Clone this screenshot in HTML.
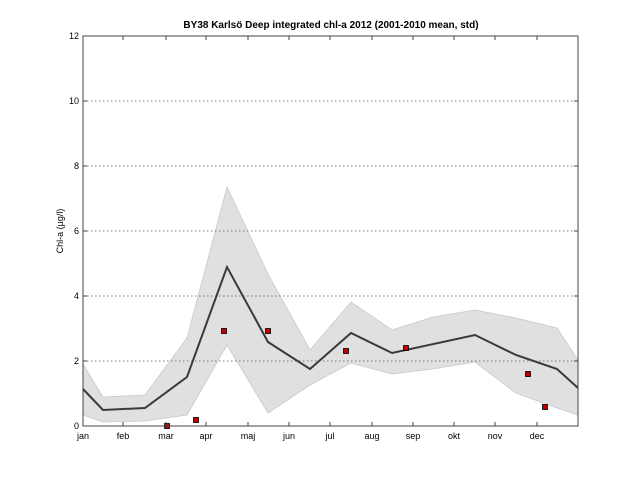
<!DOCTYPE html>
<html><head><style>body{margin:0;background:#fff}svg{display:block}</style></head><body>
<svg width="639" height="479" xmlns="http://www.w3.org/2000/svg" font-family="Liberation Sans, sans-serif" font-size="9">
<rect width="639" height="479" fill="#fff"/>
<polygon fill="#e0e0e0" stroke="#c8c8c8" stroke-width="0.8" points="83,364 103,397 145,395 187,338 227,187 268,274 310,350 351,302 392,330 433,317 475,310 516,318 557,328 578,360 578,415 557,408 516,393 475,362 433,369 392,374 351,363 310,385 268,413 227,345 187,415 145,421 103,422 83,415"/>
<g stroke="#555" stroke-width="0.8" stroke-dasharray="1.5,2.5">
<line x1="83" x2="578" y1="361" y2="361"/><line x1="83" x2="578" y1="296" y2="296"/><line x1="83" x2="578" y1="231" y2="231"/><line x1="83" x2="578" y1="166" y2="166"/><line x1="83" x2="578" y1="101" y2="101"/>
</g>
<polyline fill="none" stroke="#3a3a3a" stroke-width="2" points="83,389 103,410 145,408 187,377 227,267 268,342 310,369 351,333 392,353 475,335 516,355 557,369 578,388"/>
<g fill="#c00000" stroke="#000" stroke-width="0.8">
<rect x="164.5" y="423.5" width="5" height="5"/><rect x="193.5" y="417.5" width="5" height="5"/><rect x="221.5" y="328.5" width="5" height="5"/><rect x="265.5" y="328.5" width="5" height="5"/><rect x="343.5" y="348.5" width="5" height="5"/><rect x="403.5" y="345.5" width="5" height="5"/><rect x="525.5" y="371.5" width="5" height="5"/><rect x="542.5" y="404.5" width="5" height="5"/>
</g>
<rect x="83" y="36" width="495" height="390" fill="none" stroke="#444" stroke-width="1"/>
<g stroke="#444" stroke-width="1">
<path d="M123,426v-4M166,426v-4M206,426v-4M248,426v-4M289,426v-4M330,426v-4M372,426v-4M413,426v-4M454,426v-4M495,426v-4M537,426v-4"/>
<path d="M123,36v4M166,36v4M206,36v4M248,36v4M289,36v4M330,36v4M372,36v4M413,36v4M454,36v4M495,36v4M537,36v4"/>
<path d="M83,361h4M83,296h4M83,231h4M83,166h4M83,101h4M578,361h-4M578,296h-4M578,231h-4M578,166h-4M578,101h-4"/>
</g>
<g text-anchor="end" fill="#000"><text x="79" y="429">0</text><text x="79" y="364">2</text><text x="79" y="299">4</text><text x="79" y="234">6</text><text x="79" y="169">8</text><text x="79" y="104">10</text><text x="79" y="39">12</text></g>
<g text-anchor="middle" fill="#000">
<text x="83" y="439">jan</text><text x="123" y="439">feb</text><text x="166" y="439">mar</text><text x="206" y="439">apr</text><text x="248" y="439">maj</text><text x="289" y="439">jun</text><text x="330" y="439">jul</text><text x="372" y="439">aug</text><text x="413" y="439">sep</text><text x="454" y="439">okt</text><text x="495" y="439">nov</text><text x="537" y="439">dec</text>
</g>
<text x="331" y="28" text-anchor="middle" font-weight="bold" font-size="10">BY38 Karlsö Deep integrated chl-a 2012 (2001-2010 mean, std)</text>
<text transform="translate(63,231) rotate(-90)" text-anchor="middle">Chl-a (µg/l)</text>
</svg>
</body></html>
